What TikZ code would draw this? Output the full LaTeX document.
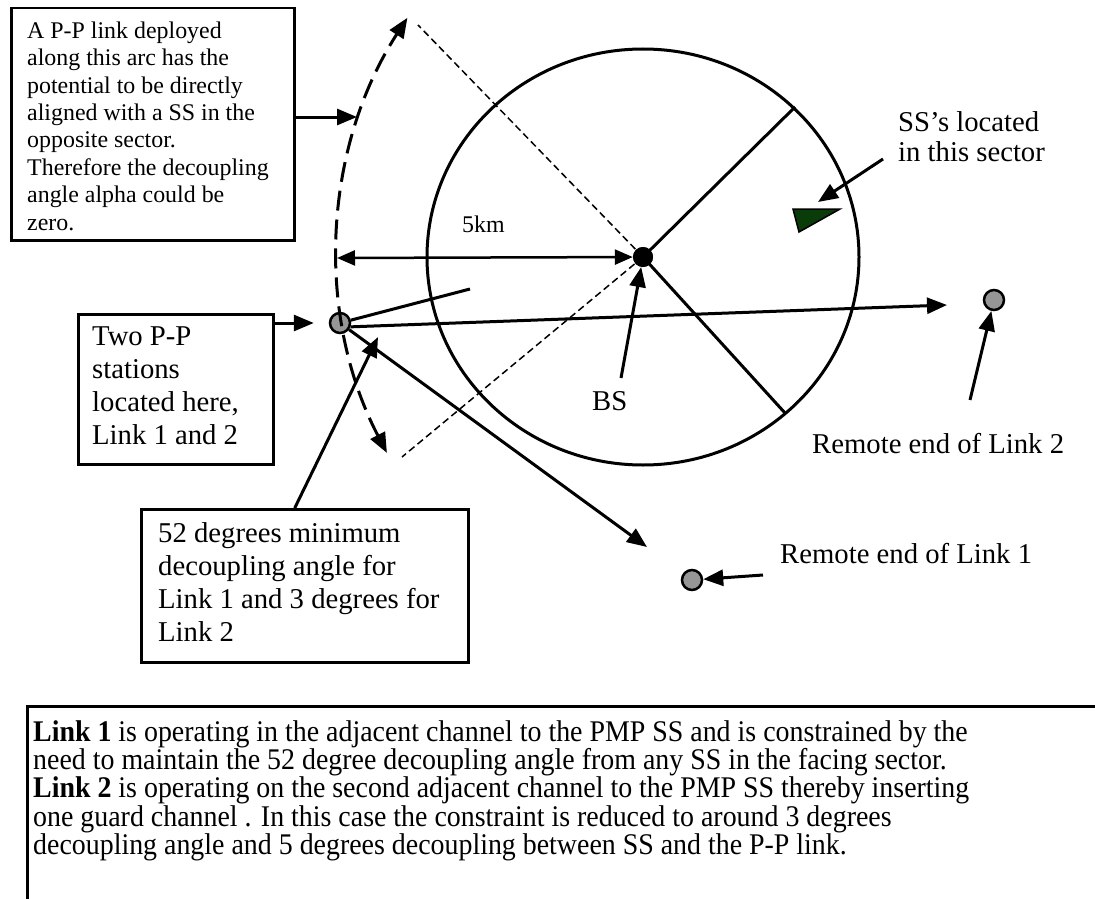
\documentclass[tikz,border=0pt]{standalone}
\usepackage{fontspec}
\setmainfont{Liberation Serif}
\newfontfamily\condfont[FakeStretch=0.93]{Liberation Serif}
\usetikzlibrary{arrows.meta}
\definecolor{ssgreen}{RGB}{10,60,10}
\definecolor{stgray}{RGB}{150,150,150}
\begin{document}
\begin{tikzpicture}[x=1pt,y=-1pt,
  line/.style={line width=3pt},
  arr/.style={line width=3pt,-{Triangle[length=20pt,width=16pt]}},
  boxed/.style={draw,line width=2.5pt,inner sep=0pt,anchor=north west},
  big/.style={font=\fontsize{28.7}{33}\selectfont},
  small/.style={font=\fontsize{23.9}{27.4}\selectfont},
  txt/.style={inner sep=0pt,align=left,anchor=north west},
  lab/.style={inner sep=0pt,anchor=base west},
  station/.style={circle,draw,line width=2.5pt,fill=stgray,minimum size=20pt,inner sep=0pt},
  bsnode/.style={circle,fill=black,minimum size=20pt,inner sep=0pt},
]
\useasboundingbox (0,0) rectangle (1095,899);

% coordinates for free ends
\coordinate (arcpt) at (357,117);
\coordinate (kmend) at (337,258);
\coordinate (s1) at (795,107);
\coordinate (s2) at (785,413);
\coordinate (d1) at (418,25);
\coordinate (d2) at (402,457);
\coordinate (arcA) at (386.9,452.9);
\coordinate (ppl) at (470,289);
\coordinate (r2tip) at (947,305);
\coordinate (r1tip) at (647,547);
\coordinate (r2s) at (970,400);
\coordinate (r1s) at (763,575);
\coordinate (fftip) at (378,337);
\coordinate (bss) at (621,378);
\coordinate (sss) at (883,159);
\coordinate (sstip) at (818,202);

% main nodes
\node[bsnode] (bs) at (643,257) {};
\node[station] (pp) at (340,323) {};
\node[station] (r2) at (994,300) {};
\node[station] (r1) at (692,580) {};

% cell boundary and sectors
\draw[line] (643,257) ellipse [x radius=216, y radius=208];
\draw[line] (bs.center) -- (s1);
\draw[line] (bs.center) -- (s2);
\draw[line width=1.5pt, dash pattern=on 7pt off 4pt] (bs.center) -- (d1);
\draw[line width=1.5pt, dash pattern=on 7pt off 4pt] (bs.center) -- (d2);
\node[bsnode] at (bs) {};

% dashed arc
\draw[line width=3pt, dash pattern=on 20pt off 9pt,
  {Triangle[length=20pt,width=16pt]}-{Triangle[length=20pt,width=16pt]}]
  (arcA) arc[start angle=152.5, end angle=212.9, radius=433];

% boxes
\node[boxed,minimum width=283pt,minimum height=232pt] (tlbox) at (10,7) {};
\node[txt,small] (tltext) at (27,21.5) {A P-P link deployed\\along this arc has the\\potential to be directly\\aligned with a SS in the\\opposite sector.\\Therefore the decoupling\\angle alpha could be\\zero.};

\node[boxed,minimum width=195pt,minimum height=150pt] (tpbox) at (77,313) {};
\node[txt,big] (tptext) at (92,327) {Two P-P\\stations\\located here,\\Link 1 and 2};

\node[boxed,minimum width=327pt,minimum height=153pt] (ffbox) at (140,508) {};
\node[txt,big] (fftext) at (158,522) {52 degrees minimum\\decoupling angle for\\Link 1 and 3 degrees for\\Link 2};

% labels
\node[lab,big] (r2lab) at (812,453) {Remote end of Link 2};
\node[lab,big] (r1lab) at (780,563) {Remote end of Link 1};
\node[lab,big] (bslab) at (592,410) {BS};
\node[lab,small] (kmlab) at (462,232) {5km};
\node[txt,font=\fontsize{28.7}{30}\selectfont] (sslab) at (898,111) {SS’s located\\in this sector};

% connectors
\draw[arr] (tlbox.east |- arcpt) -- (arcpt);
\draw[line width=2.5pt, {Triangle[length=18pt,width=15pt]}-{Triangle[length=18pt,width=15pt]}] (kmend) -- (bs);
\draw[arr, shorten >=2pt] (tpbox.east |- pp) -- ([xshift=-13pt]pp.west);
\draw[line] (pp) -- (ppl);
\draw[arr] (pp.-20) -- (r2tip);
\draw[arr] (pp) -- (r1tip);
\draw[arr] (r2s) -- (r2);
\draw[arr] (r1s) -- (r1);
\draw[arr] ([xshift=-10pt]ffbox.north) -- (fftip);
\draw[arr] (bss) -- (bs);
\draw[arr] (sss) -- (sstip);
\draw[line width=1.5pt, fill=ssgreen] (793,209) -- (840,209) -- (799,232) -- cycle;

% bottom text frame
\draw[line] (1095,706) -- (27,706) -- (27,899);
\node[txt,font=\condfont\fontsize{30}{26.5}\selectfont] (btext) at (33,720) {\textbf{Link 1} is operating in the adjacent channel to the PMP SS and is constrained by the\\need to maintain the 52 degree decoupling angle from any SS in the facing sector.\\\textbf{Link 2} is operating on the second adjacent channel to the PMP SS thereby inserting\\one guard channel . In this case the constraint is reduced to around 3 degrees\\decoupling angle and 5 degrees decoupling between SS and the P-P link.};
\end{tikzpicture}
\end{document}
